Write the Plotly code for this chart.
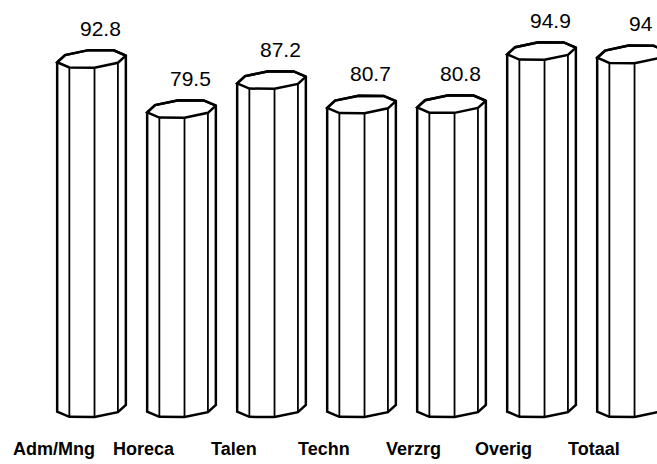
import numpy as np
import plotly.graph_objects as go

# Share of respondents per education sector
categories = ["Adm/Mng", "Horeca", "Talen", "Techn", "Verzrg", "Overig", "Totaal"]
values = [92.8, 79.5, 87.2, 80.7, 80.8, 94.9, 94]
value_labels = ["92.8", "79.5", "87.2", "80.7", "80.8", "94.9", "94"]

# Octagonal column geometry (x in category units, y in value units)
RX = 0.383          # half width of a column
DEPTH = 2.4         # vertical half-depth of the octagon face
TILT = 0.68         # right side of the face sits slightly higher
ANGLES = np.deg2rad(5 + 45 * np.arange(8))
FRONT = np.deg2rad([185, 230, 275, 320, 365])
BACK = np.deg2rad([50, 95, 140])
BASE = 0.0

def face(cx, cy, th):
    return cx + RX * np.cos(th), cy + DEPTH * np.sin(th) + TILT * np.cos(th)

fig = go.Figure()
LINE = dict(color="black", width=2.5)

for i, v in enumerate(values):
    # body silhouette: bottom front edge, up the right side, back along the top
    bx, by = face(i, BASE, FRONT)
    tx, ty = face(i, v, BACK)
    rx, ry = face(i, v, FRONT[-1:])
    lx, ly = face(i, v, FRONT[:1])
    xs = np.concatenate([lx, bx, rx, tx, lx])
    ys = np.concatenate([ly, by, ry, ty, ly])
    fig.add_trace(go.Scatter(x=xs, y=ys, mode="lines", fill="toself",
                             fillcolor="white", line=LINE, hoverinfo="skip"))
    # top face
    ox, oy = face(i, v, np.append(ANGLES, ANGLES[0]))
    fig.add_trace(go.Scatter(x=ox, y=oy, mode="lines", line=LINE, hoverinfo="skip"))
    # facet edges on the front
    ex, ey = [], []
    for th in FRONT[1:4]:
        x0, y0 = face(i, v, th)
        x1, y1 = face(i, BASE, th)
        ex += [x0, x1, None]
        ey += [y0, y1, None]
    fig.add_trace(go.Scatter(x=ex, y=ey, mode="lines",
                             line=dict(color="black", width=1.8), hoverinfo="skip"))

    fig.add_annotation(x=i + 0.1, y=v + 8.1, text=value_labels[i], showarrow=False,
                       xanchor="center", yanchor="middle",
                       font=dict(family="Liberation Sans, Arial", size=21, color="black"))
    fig.add_annotation(x=i - 0.42, y=-10.8, text="<b>" + categories[i] + "</b>",
                       showarrow=False, xanchor="center", yanchor="middle",
                       font=dict(family="Liberation Sans, Arial", size=18, color="black"))

fig.update_layout(
    width=657, height=464, showlegend=False,
    margin=dict(l=0, r=0, t=0, b=0),
    paper_bgcolor="white", plot_bgcolor="white",
    xaxis=dict(range=[-1.0167, 6.283], visible=False, fixedrange=True),
    yaxis=dict(range=[-14.8, 108.45], visible=False, fixedrange=True),
)

fig.write_html("out.html")
